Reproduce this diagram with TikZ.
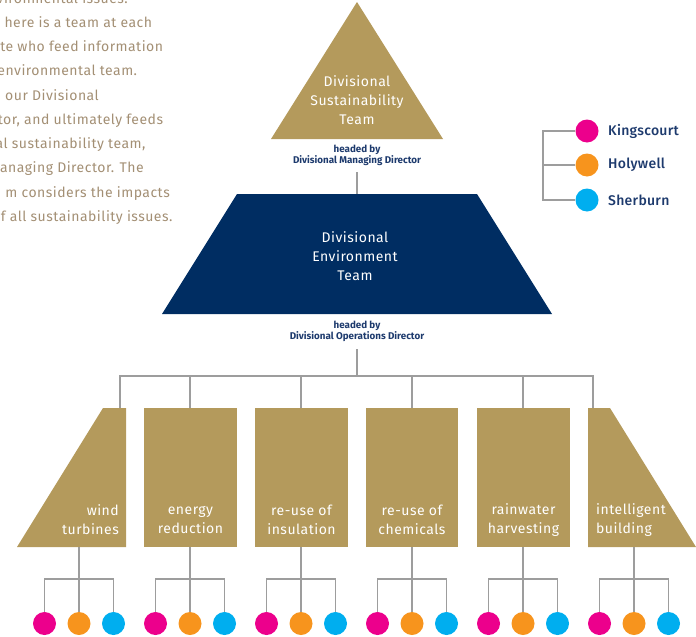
\documentclass[tikz,border=0pt]{standalone}
\usepackage{fontspec}
\setmainfont{Fira Sans}
\newfontfamily\medfont{Fira Sans Medium}
\definecolor{gold}{HTML}{B49A5C}
\definecolor{navy}{HTML}{002D62}
\definecolor{linegrey}{HTML}{9D9D9D}
\definecolor{tan}{HTML}{A38F74}
\definecolor{mag}{HTML}{EC008C}
\definecolor{org}{HTML}{F7941D}
\definecolor{cyn}{HTML}{00AEEF}
\definecolor{labnavy}{HTML}{1D3A6D}
\begin{document}
\begin{tikzpicture}[x=1pt,y=-1pt,
  conn/.style={draw=linegrey,line width=1.6pt},
  dot/.style={circle,inner sep=0pt,minimum size=23pt},
  dotk/.style={dot,fill=mag},
  doth/.style={dot,fill=org},
  dots/.style={dot,fill=cyn},
  body/.style={anchor=base east,text=tan,inner sep=0pt,font=\fontsize{14}{16}\selectfont\addfontfeature{LetterSpace=3.5}},
  boxlab/.style={text=white,inner sep=0pt,font=\fontsize{14}{19}\selectfont\addfontfeature{LetterSpace=3.5}},
  headlab/.style={text=labnavy,inner sep=0pt,align=center,font=\bfseries\fontsize{9.8}{11}\selectfont},
  leglab/.style={text=labnavy,anchor=west,inner sep=0pt,font=\medfont\fontsize{14}{16}\selectfont\addfontfeature{LetterSpace=2}}]
\useasboundingbox (0,0) rectangle (696,637);
% body text
\node[body] (t1) at (128,4) {vironmental issues.};
\node[body] (t2) at (152.3,27.5) {here is a team at each};
\node[body] (t3) at (163.3,51.5) {te who feed information};
\node[body] (t4) at (137.3,75.5) {environmental team.};
\node[body] (t5) at (99,100) {our Divisional};
\node[body] (t6) at (163.3,124) {tor, and ultimately feeds};
\node[body] (t7) at (145.7,148.5) {al sustainability team,};
\node[body] (t8) at (144,172.5) {anaging Director. The};
\node[body] (t9) at (170,197) {m considers the impacts};
\node[body] (t10) at (172.7,221) {of all sustainability issues.};
% triangle
\fill[gold] (357,2) -- (443,139) -- (271,139) -- cycle;
\node[boxlab,align=center] (dst) at (357,100) {Divisional\\Sustainability\\Team};
\node[headlab] (h1) at (357,155.5) {headed by\\Divisional Managing Director};
% environment trapezoid
\fill[navy] (237,194) -- (477,194) -- (552,314) -- (162,314) -- cycle;
\node[boxlab,align=center] (det) at (355,256.5) {Divisional\\Environment\\Team};
\node[headlab] (h2) at (357,331.5) {headed by\\Divisional Operations Director};
\coordinate (s1a) at (357,172);
\coordinate (s1b) at (357,194);
\draw[conn] (s1a) -- (s1b);
\coordinate (s2a) at (357,349);
\coordinate (bar) at (357,376);
\draw[conn] (s2a) -- (bar);
% team boxes
\fill[gold] (103,408) -- (126,408) -- (126,547) -- (17,547) -- cycle;
\fill[gold] (144,408) rectangle (237,547);
\fill[gold] (255,408) rectangle (348,547);
\fill[gold] (366,408) rectangle (458,547);
\fill[gold] (477,408) rectangle (570,547);
\fill[gold] (588,408) -- (610,408) -- (696,547) -- (588,547) -- cycle;
\node[boxlab,align=right,anchor=east] (l1) at (119,520) {wind\\turbines};
\node[boxlab,align=center] (l2) at (190.5,520) {energy\\reduction};
\node[boxlab,align=center] (l3) at (301.5,520) {re-use of\\insulation};
\node[boxlab,align=center] (l4) at (412,520) {re-use of\\chemicals};
\node[boxlab,align=center] (l5) at (523.5,520) {rainwater\\harvesting};
\node[boxlab,align=left,anchor=west] (l6) at (596,520) {intelligent\\building};
% top bar connectors
\coordinate (bt1) at (120,408);
\coordinate (bt2) at (190,408);
\coordinate (bt3) at (301,408);
\coordinate (bt4) at (412,408);
\coordinate (bt5) at (523,408);
\coordinate (bt6) at (593,408);
\draw[conn] (bt1) |- (bar) -| (bt6);
\foreach \i in {2,3,4,5} {\draw[conn] (bt\i) -- (bt\i |- bar);}
% sub-trees
\foreach \i/\x in {1/79,2/190,3/301,4/412,5/523,6/634} {
  \node[dotk] (k\i) at (\x-34.5,623.5) {};
  \node[doth] (o\i) at (\x,623.5) {};
  \node[dots] (c\i) at (\x+34.5,623.5) {};
  \coordinate (bb\i) at (\x,547);
  \coordinate (hb\i) at (\x,579);
  \draw[conn] (bb\i) -- (o\i);
  \draw[conn] (k\i) |- (hb\i) -| (c\i);
}
% legend
\node[dotk] (lk) at (587,131) {};
\node[doth] (lh) at (587,165) {};
\node[dots] (ls) at (587,200) {};
\coordinate (lt) at (543,131);
\coordinate (lb) at (543,200);
\draw[conn] (lk) -- (lt) -- (lb) -- (ls);
\draw[conn] (lh) -- (lh -| lt);
\node[leglab] (lkt) at (608,131) {Kingscourt};
\node[leglab] (lht) at (608,165) {Holywell};
\node[leglab] (lst) at (608,200) {Sherburn};
\end{tikzpicture}
\end{document}
